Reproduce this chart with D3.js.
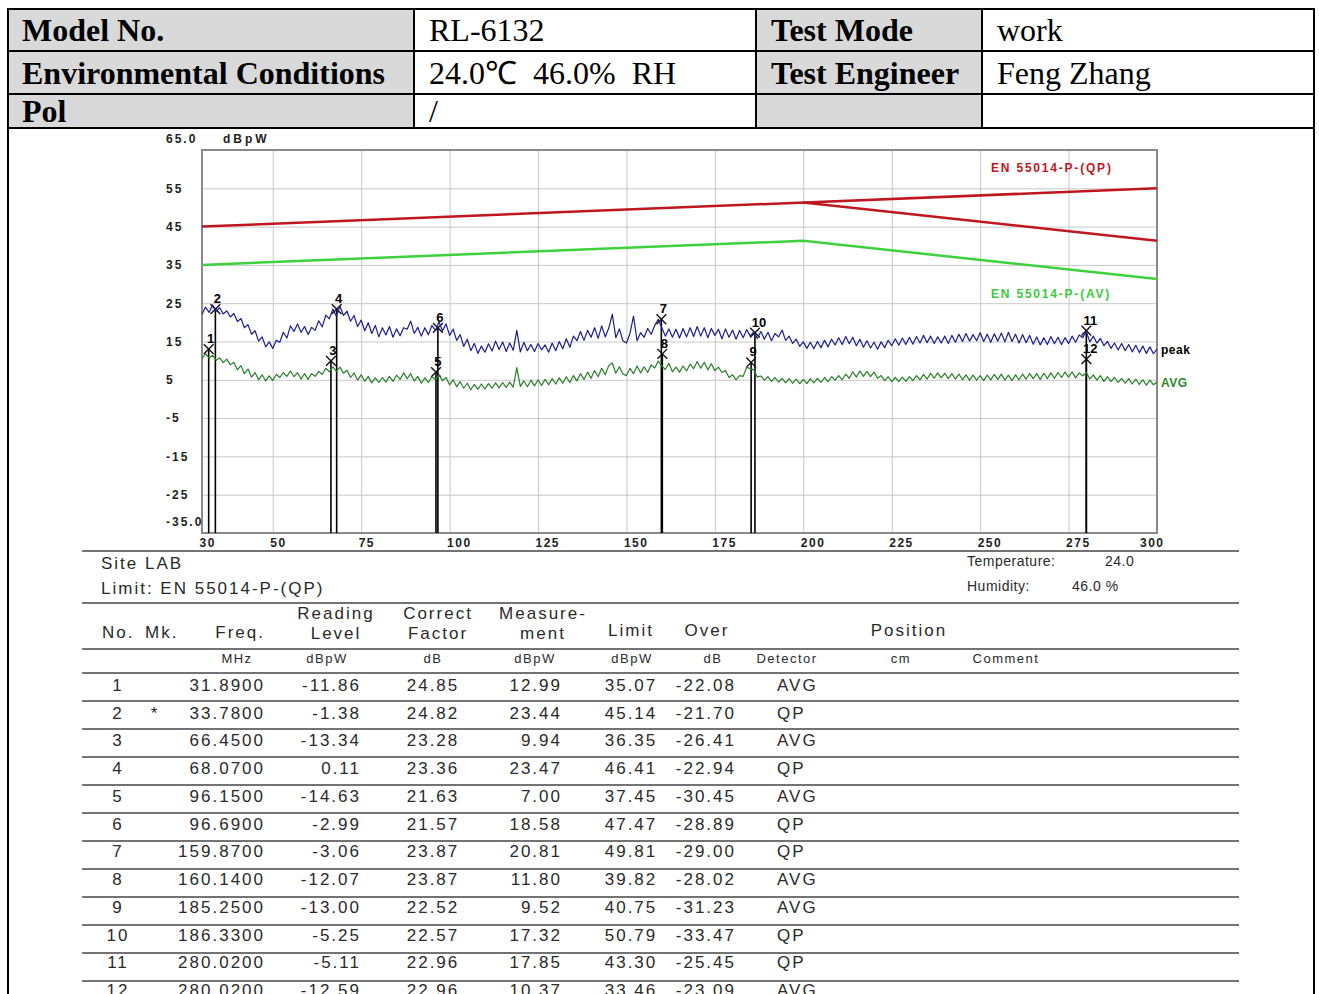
<!DOCTYPE html>
<html>
<head>
<meta charset="utf-8">
<script src="https://cdn.jsdelivr.net/npm/d3@7"></script>
<style>
  body { margin: 0; background: #fff; }
  svg { display: block; }
  .serif { font-family: "Liberation Serif", "Times New Roman", serif; }
  .sans { font-family: "Liberation Sans", Arial, sans-serif; }
</style>
</head>
<body>
<svg width="1319" height="994"></svg>
<script>
// ---- data ----
const headerRows = [
  ['Model No.', 'RL-6132', 'Test Mode', 'work'],
  ['Environmental Conditions', '24.0\u2103  46.0%  RH', 'Test Engineer', 'Feng Zhang'],
  ['Pol', '/', '', '']
];

// sweep 30..300 MHz, one reading per MHz
const sweepStart = 30;
const peakLevels = [
  22.1, 24.0, 22.6, 24.5, 22.9, 23.8, 22.2, 23.0, 21.4, 22.3,
  20.2, 21.0, 18.6, 19.4, 16.9, 17.8, 15.1, 16.2, 13.6, 14.9,
  13.2, 15.3, 14.8, 17.4, 15.9, 19.1, 17.6, 19.6, 17.4, 18.9,
  16.8, 18.7, 17.9, 20.4, 18.8, 21.9, 20.9, 23.5, 21.6, 24.2,
  21.8, 22.9, 20.3, 21.8, 18.9, 20.6, 17.8, 19.9, 17.1, 19.2,
  16.2, 18.6, 16.7, 18.9, 16.1, 18.3, 16.5, 18.6, 18.2, 20.3,
  17.1, 18.7, 16.4, 18.6, 16.8, 19.2, 17.9, 20.1, 17.8, 19.6,
  16.6, 18.2, 15.3, 16.8, 13.7, 15.6, 12.6, 14.5, 11.9, 13.8,
  12.2, 14.4, 12.5, 15.1, 12.9, 14.9, 12.4, 14.6, 12.7, 17.9,
  12.3, 14.8, 12.6, 14.2, 12.4, 14.5, 12.8, 14.1, 12.2, 14.6,
  12.6, 15.0, 13.1, 15.7, 13.5, 16.4, 15.2, 17.6, 15.3, 17.9,
  16.1, 18.6, 15.8, 19.1, 16.2, 18.5, 22.1, 16.0, 18.3, 15.2,
  14.6, 17.1, 21.6, 15.2, 17.3, 16.1, 18.4, 16.9, 19.2, 20.8,
  18.6, 16.4, 18.3, 16.1, 18.2, 15.9, 18.4, 16.2, 18.6, 16.3,
  18.9, 16.4, 18.6, 16.0, 18.4, 16.6, 18.2, 15.7, 18.3, 16.1,
  18.0, 15.6, 17.9, 16.0, 18.1, 16.4, 17.5, 15.8, 17.6, 15.6,
  17.4, 15.2, 17.1, 16.2, 18.0, 15.3, 16.4, 14.5, 15.6, 13.7,
  14.9, 13.2, 14.8, 13.1, 15.0, 13.4, 15.3, 13.6, 15.6, 14.1,
  16.0, 14.2, 16.3, 14.4, 16.1, 13.9, 15.6, 13.5, 15.2, 13.3,
  14.8, 13.0, 14.9, 13.4, 15.3, 13.9, 15.7, 14.0, 15.9, 14.2,
  16.1, 14.3, 16.3, 14.6, 16.6, 14.7, 16.4, 14.5, 16.2, 14.6,
  16.4, 14.5, 16.6, 14.8, 16.9, 15.0, 17.1, 15.1, 16.8, 15.2,
  17.3, 15.0, 16.9, 14.8, 17.0, 15.1, 17.2, 14.9, 17.4, 15.0,
  16.9, 14.6, 16.8, 14.7, 16.6, 14.3, 16.2, 14.1, 16.0, 14.2,
  16.3, 14.4, 16.1, 14.2, 16.0, 14.5, 16.4, 14.8, 16.7, 16.0,
  17.6, 14.9, 16.4, 14.6, 15.8, 13.9, 15.0, 13.2, 14.6, 12.8,
  14.5, 12.6, 14.2, 12.3, 14.0, 12.1, 13.8, 11.9, 13.6, 11.8,
  13.0
];
const avgLevels = [
  10.6, 11.8, 10.7, 11.4, 10.1, 10.7, 9.5, 10.4, 8.9, 9.6,
  7.6, 8.7, 6.6, 7.8, 5.7, 6.9, 5.0, 6.3, 4.7, 6.0,
  4.8, 6.4, 5.6, 6.9, 5.9, 7.3, 5.8, 6.9, 5.2, 6.6,
  5.1, 6.6, 5.9, 7.2, 6.4, 8.0, 7.1, 8.4, 7.2, 8.3,
  6.7, 7.5, 5.6, 6.8, 4.9, 6.3, 4.6, 5.9, 4.2, 5.5,
  4.3, 5.6, 4.4, 5.9, 4.6, 6.2, 5.1, 6.8, 5.3, 6.6,
  4.7, 5.9, 4.1, 5.5, 4.3, 5.8, 5.0, 6.3, 4.8, 5.6,
  3.7, 5.0, 3.2, 4.5, 2.8, 4.1, 2.4, 3.8, 2.5, 3.9,
  2.6, 4.0, 2.8, 4.2, 2.9, 4.3, 3.0, 4.4, 3.1, 8.2,
  3.3, 4.7, 3.2, 4.9, 3.4, 5.0, 3.5, 5.1, 3.7, 5.3,
  3.9, 5.5, 4.1, 5.8, 4.3, 6.1, 4.7, 6.6, 5.1, 7.0,
  5.4, 7.4, 5.8, 8.0, 6.3, 8.7, 9.4, 6.7, 8.4, 6.5,
  6.1, 8.0, 6.6, 8.6, 6.8, 8.4, 6.9, 8.9, 8.1, 9.9,
  8.6, 7.7, 9.3, 7.1, 8.3, 7.0, 8.6, 7.3, 9.1, 7.9,
  9.8, 8.0, 9.6, 7.6, 9.2, 7.4, 8.3, 6.9, 7.4, 5.6,
  6.3, 5.0, 6.1, 5.9, 8.3, 7.9, 7.6, 5.7, 6.0, 4.9,
  5.8, 4.6, 5.6, 4.4, 5.4, 4.2, 5.3, 4.1, 5.2, 4.0,
  5.1, 4.0, 5.3, 4.2, 5.4, 4.3, 5.6, 4.5, 5.8, 4.9,
  6.1, 5.0, 6.5, 5.4, 7.1, 5.7, 7.3, 5.9, 7.2, 5.8,
  7.0, 5.4, 6.1, 4.8, 5.8, 4.5, 5.6, 4.5, 5.7, 4.6,
  5.8, 4.8, 6.1, 5.0, 6.4, 5.2, 6.7, 5.4, 6.8, 5.5,
  6.7, 5.3, 6.6, 5.2, 6.5, 5.0, 6.3, 4.9, 6.2, 4.9,
  6.1, 4.8, 6.2, 5.0, 6.4, 5.1, 6.5, 4.9, 6.2, 4.8,
  6.3, 5.0, 6.5, 5.2, 6.6, 5.3, 6.6, 5.1, 6.7, 5.3,
  6.8, 5.4, 6.9, 5.6, 7.0, 5.7, 7.1, 5.5, 6.8, 6.0,
  6.9, 5.2, 6.3, 4.9, 6.1, 4.6, 5.8, 4.5, 5.6, 4.3,
  5.4, 4.1, 5.3, 3.9, 5.2, 3.8, 5.0, 3.6, 4.9, 3.7,
  4.4
];

// limit lines
const qpLimitFreqs = [30, 300];
const qpLimitLevels = [45, 55];
const qpLimitHighFreqs = [200, 300];
const qpLimitHighLevels = [51.3, 41.3];
const avLimitFreqs = [30, 200, 300];
const avLimitLevels = [35, 41.3, 31.3];

// axis ticks
const xTicks = [30, 50, 75, 100, 125, 150, 175, 200, 225, 250, 275, 300];
const yTicks = [65, 55, 45, 35, 25, 15, 5, -5, -15, -25, -35];
const yTickLabels = ['65.0', '55', '45', '35', '25', '15', '5', '-5', '-15', '-25', '-35.0'];

// marker table
const markerNo = [1, 2, 3, 4, 5, 6, 7, 8, 9, 10, 11, 12];
const markerMk = ['', '*', '', '', '', '', '', '', '', '', '', ''];
const markerFreq = [31.89, 33.78, 66.45, 68.07, 96.15, 96.69, 159.87, 160.14, 185.25, 186.33, 280.02, 280.02];
const readingLevel = [-11.86, -1.38, -13.34, 0.11, -14.63, -2.99, -3.06, -12.07, -13.00, -5.25, -5.11, -12.59];
const correctFactor = [24.85, 24.82, 23.28, 23.36, 21.63, 21.57, 23.87, 23.87, 22.52, 22.57, 22.96, 22.96];
const measurement = [12.99, 23.44, 9.94, 23.47, 7.00, 18.58, 20.81, 11.80, 9.52, 17.32, 17.85, 10.37];
const limitLevel = [35.07, 45.14, 36.35, 46.41, 37.45, 47.47, 49.81, 39.82, 40.75, 50.79, 43.30, 33.46];
const overLevel = [-22.08, -21.70, -26.41, -22.94, -30.45, -28.89, -29.00, -28.02, -31.23, -33.47, -25.45, -23.09];
const detector = ['AVG', 'QP', 'AVG', 'QP', 'AVG', 'QP', 'QP', 'AVG', 'AVG', 'QP', 'QP', 'AVG'];

// ---- drawing ----
const svg = d3.select('svg');

// header table
const headCols = [8, 414, 756, 982, 1314];
const headRowsY = [9, 51, 94, 128];
const headG = svg.append('g').attr('class', 'serif');
headerRows.forEach((row, r) => {
  row.forEach((txt, c) => {
    const y0 = headRowsY[r];
    const h = headRowsY[r + 1] - y0;
    headG.append('rect')
      .attr('x', headCols[c]).attr('y', y0)
      .attr('width', headCols[c + 1] - headCols[c]).attr('height', h)
      .attr('fill', c % 2 === 0 ? '#d9d9d9' : '#fff')
      .attr('stroke', '#000').attr('stroke-width', 2);
    headG.append('text')
      .attr('x', headCols[c] + (c === 0 ? 14 : 15))
      .attr('y', y0 + h / 2 + 11)
      .attr('font-size', 32)
      .attr('font-weight', c % 2 === 0 ? 'bold' : 'normal')
      .style('white-space', 'pre')
      .text(txt);
  });
});

// frame around chart + table cell
svg.append('g')
  .attr('stroke', '#000').attr('stroke-width', 2)
  .call(g => {
    g.append('line').attr('x1', 8).attr('x2', 8).attr('y1', 128).attr('y2', 994);
    g.append('line').attr('x1', 1314).attr('x2', 1314).attr('y1', 128).attr('y2', 994);
  });

// chart
const xScale = d3.scaleLinear().domain([30, 300]).range([202, 1157]);
const yScale = d3.scaleLinear().domain([-35, 65]).range([533, 150]);
const [plotL, plotR] = xScale.range();
const [plotB, plotT] = yScale.range();

const chart = svg.append('g').attr('class', 'sans');

// grid
chart.append('g')
  .attr('transform', `translate(0,${plotB})`)
  .call(d3.axisBottom(xScale).tickValues(xTicks.slice(1, -1)).tickSize(-(plotB - plotT)).tickFormat(''))
  .call(g => g.select('.domain').remove())
  .call(g => g.selectAll('line').attr('stroke', '#c8c8c8'));
chart.append('g')
  .attr('transform', `translate(${plotL},0)`)
  .call(d3.axisLeft(yScale).tickValues(yTicks.slice(1, -1)).tickSize(-(plotR - plotL)).tickFormat(''))
  .call(g => g.select('.domain').remove())
  .call(g => g.selectAll('line').attr('stroke', '#c8c8c8'));

chart.append('rect')
  .attr('x', plotL).attr('y', plotT)
  .attr('width', plotR - plotL).attr('height', plotB - plotT)
  .attr('fill', 'none').attr('stroke', '#8a8a8a').attr('stroke-width', 2);

// limit lines
const lineGen = d3.line().x(d => xScale(d[0])).y(d => yScale(d[1]));
const limits = [
  { f: qpLimitFreqs, v: qpLimitLevels, color: '#c0161e' },
  { f: qpLimitHighFreqs, v: qpLimitHighLevels, color: '#c0161e' },
  { f: avLimitFreqs, v: avLimitLevels, color: '#3dd23d' }
];
chart.append('g').selectAll('path')
  .data(limits)
  .join('path')
  .attr('d', d => lineGen(d.f.map((f, i) => [f, d.v[i]])))
  .attr('fill', 'none')
  .attr('stroke', d => d.color)
  .attr('stroke-width', 2.5);

// marker stems
const markers = markerNo.map((n, i) => ({ n, f: markerFreq[i], v: measurement[i] }));
chart.append('g').selectAll('line')
  .data(markers)
  .join('line')
  .attr('x1', d => xScale(d.f)).attr('x2', d => xScale(d.f))
  .attr('y1', plotB).attr('y2', d => yScale(d.v))
  .attr('stroke', '#000').attr('stroke-width', 1.6);

// marker crosses
chart.append('g').selectAll('path')
  .data(markers)
  .join('path')
  .attr('transform', d => `translate(${xScale(d.f)},${yScale(d.v)})`)
  .attr('d', d3.symbol(d3.symbolX, 64))
  .attr('fill', 'none').attr('stroke', '#111').attr('stroke-width', 1.4);

// traces
const traces = [
  { levels: avgLevels, color: '#2a7e2a' },
  { levels: peakLevels, color: '#1d1d8f' }
];
chart.append('g').selectAll('path')
  .data(traces)
  .join('path')
  .attr('d', d => lineGen(d.levels.map((v, i) => [sweepStart + i, v])))
  .attr('fill', 'none')
  .attr('stroke', d => d.color)
  .attr('stroke-width', 1.2)
  .attr('stroke-linejoin', 'round');

// marker numbers
chart.append('g').selectAll('text')
  .data(markers)
  .join('text')
  .attr('x', d => xScale(d.f) + (d.n >= 10 ? 4 : 2))
  .attr('y', d => yScale(d.v) - 6)
  .attr('text-anchor', 'middle')
  .attr('font-size', 13).attr('font-weight', 'bold')
  .text(d => d.n);

// trace + limit labels
chart.append('text')
  .attr('x', plotR + 4).attr('y', 354)
  .attr('font-size', 12).attr('font-weight', 'bold').attr('letter-spacing', 0.5)
  .text('peak');
chart.append('text')
  .attr('x', plotR + 4).attr('y', 387)
  .attr('font-size', 12).attr('font-weight', 'bold').attr('letter-spacing', 0.5)
  .attr('fill', '#2a8a2a')
  .text('AVG');
chart.append('text')
  .attr('x', 991).attr('y', 172)
  .attr('font-size', 12).attr('font-weight', 'bold').attr('letter-spacing', 1.8)
  .attr('fill', '#c0161e')
  .text('EN 55014-P-(QP)');
chart.append('text')
  .attr('x', 991).attr('y', 298)
  .attr('font-size', 12).attr('font-weight', 'bold').attr('letter-spacing', 1.8)
  .attr('fill', '#3dc83d')
  .text('EN 55014-P-(AV)');

// y axis labels
chart.append('g')
  .attr('transform', 'translate(166,0)')
  .call(d3.axisLeft(yScale).tickValues(yTicks).tickSize(0).tickPadding(0)
    .tickFormat((d, i) => yTickLabels[i]))
  .call(g => g.select('.domain').remove())
  .call(g => g.selectAll('text')
    .attr('text-anchor', 'start')
    .attr('x', 0)
    .attr('dy', (d, i) => (i === 0 || i === yTicks.length - 1) ? '-0.6em' : '0.32em')
    .attr('font-family', null)
    .attr('font-size', 12).attr('font-weight', 'bold').attr('letter-spacing', 2)
    .attr('fill', '#222'));
chart.append('text')
  .attr('x', 223).attr('y', 143)
  .attr('font-size', 12).attr('font-weight', 'bold').attr('letter-spacing', 3)
  .attr('fill', '#222')
  .text('dBpW');

// x axis labels
chart.append('g')
  .attr('transform', `translate(0,${plotB})`)
  .call(d3.axisBottom(xScale).tickValues(xTicks).tickSize(0).tickPadding(5.5))
  .call(g => g.select('.domain').remove())
  .call(g => g.selectAll('text')
    .attr('text-anchor', d => d === 300 ? 'end' : 'start')
    .attr('dx', d => d === 300 ? 7 : -3)
    .attr('font-family', null)
    .attr('font-size', 12).attr('font-weight', 'bold').attr('letter-spacing', 1.5)
    .attr('fill', '#222'));

// ---- results block ----
const info = svg.append('g').attr('class', 'sans').attr('fill', '#2a2a2a');
const ruleX = [82, 1239];
const rule = (yy) => info.append('line')
  .attr('x1', ruleX[0]).attr('x2', ruleX[1]).attr('y1', yy).attr('y2', yy)
  .attr('stroke', '#444').attr('stroke-width', 1.5);

rule(551);
const infoText = (x, y, t, size, ls, anchor) => info.append('text')
  .attr('x', x).attr('y', y).attr('dy', '0.35em')
  .attr('font-size', size).attr('letter-spacing', ls)
  .attr('text-anchor', anchor || 'start')
  .style('white-space', 'pre')
  .text(t);

infoText(101, 563, 'Site LAB', 17, 2);
infoText(101, 588, 'Limit: EN 55014-P-(QP)', 17, 2);
infoText(967, 561, 'Temperature:', 14, 0.5);
infoText(1105, 561, '24.0', 14, 0.5);
infoText(967, 586, 'Humidity:', 14, 0.5);
infoText(1072, 586, '46.0 %', 14, 0.5);

rule(603);
rule(649);
rule(673);

// column layout: header lines, units, value anchor
const columns = [
  { head: ['No.'], hx: 102, ha: 'start', hy: [632], unit: '', ux: 0, vx: 118, va: 'middle', val: i => String(markerNo[i]) },
  { head: ['Mk.'], hx: 145, ha: 'start', hy: [632], unit: '', ux: 0, vx: 155, va: 'middle', val: i => markerMk[i] },
  { head: ['Freq.'], hx: 265, ha: 'end', hy: [632], unit: 'MHz', ux: 237, vx: 265, va: 'end', val: i => markerFreq[i].toFixed(4) },
  { head: ['Reading', 'Level'], hx: 336, ha: 'middle', hy: [613, 633], unit: 'dBpW', ux: 327, vx: 361, va: 'end', val: i => readingLevel[i].toFixed(2) },
  { head: ['Correct', 'Factor'], hx: 438, ha: 'middle', hy: [613, 633], unit: 'dB', ux: 433, vx: 433, va: 'middle', val: i => correctFactor[i].toFixed(2) },
  { head: ['Measure-', 'ment'], hx: 543, ha: 'middle', hy: [613, 633], unit: 'dBpW', ux: 535, vx: 562, va: 'end', val: i => measurement[i].toFixed(2) },
  { head: ['Limit'], hx: 631, ha: 'middle', hy: [630], unit: 'dBpW', ux: 632, vx: 631, va: 'middle', val: i => limitLevel[i].toFixed(2) },
  { head: ['Over'], hx: 707, ha: 'middle', hy: [630], unit: 'dB', ux: 713, vx: 736, va: 'end', val: i => overLevel[i].toFixed(2) },
  { head: [], hx: 0, ha: 'start', hy: [], unit: 'Detector', ux: 787, vx: 777, va: 'start', val: i => detector[i] },
  { head: ['Position'], hx: 909, ha: 'middle', hy: [630], unit: 'cm', ux: 901, vx: 0, va: 'start', val: () => '' },
  { head: [], hx: 0, ha: 'start', hy: [], unit: 'Comment', ux: 1006, vx: 0, va: 'start', val: () => '' }
];

columns.forEach(col => {
  col.head.forEach((h, k) => infoText(col.hx, col.hy[k], h, 17, 2, col.ha));
  if (col.unit) infoText(col.ux, 658, col.unit, 13, 1.5, 'middle');
});

markerNo.forEach((n, i) => {
  const cy = 685 + 27.75 * i;
  columns.forEach(col => {
    const t = col.val(i);
    if (t) infoText(col.vx, cy, t, 17, 2, col.va);
  });
  if (i < markerNo.length - 1) rule(673 + 28 * (i + 1));
});
</script>
</body>
</html>
